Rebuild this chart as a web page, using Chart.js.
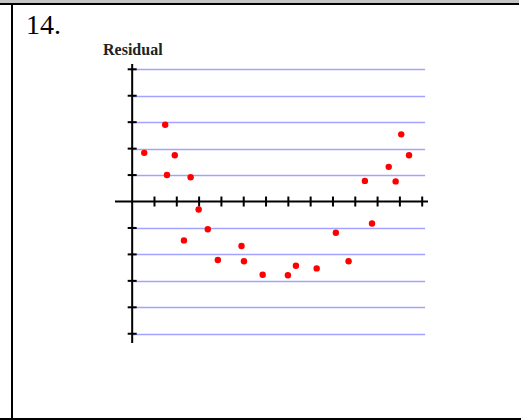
<!DOCTYPE html>
<html>
<head>
<meta charset="utf-8">
<script src="https://cdn.jsdelivr.net/npm/chart.js@4"></script>
<style>
  html, body { margin: 0; padding: 0; background: #fff; }
  #wrap { position: relative; width: 521px; height: 420px; overflow: hidden; }
  #topband { position: absolute; left: 0; top: 0; width: 519px; height: 3px; background: #c4c4c4; }
  #topline { position: absolute; left: 0; top: 3px; width: 519px; height: 2px; background: #000; }
  #leftline { position: absolute; left: 11px; top: 5px; width: 2px; height: 414px; background: #000; }
  #bottomline { position: absolute; left: 0; top: 418px; width: 521px; height: 2px; background: #000; }
  #num { position: absolute; left: 26px; top: 9px; font-family: "Liberation Serif", serif; font-size: 28px; color: #000; }
  #ylabel { position: absolute; left: 103px; top: 41px; font-family: "Liberation Serif", serif; font-weight: bold; font-size: 16px; color: #222; }
  canvas { position: absolute; left: 0; top: 0; }
</style>
</head>
<body>
<div id="wrap">
  <div id="topband"></div>
  <div id="topline"></div>
  <div id="leftline"></div>
  <div id="bottomline"></div>
  <div id="num">14.</div>
  <div id="ylabel">Residual</div>
  <canvas id="residualChart" width="521" height="420"></canvas>
</div>
<script>
// 残差点 (x, residual)
const xValues = [0.54, 1.48, 1.56, 1.91, 2.62, 2.98, 2.32, 3.39, 3.84, 4.90, 5.01, 5.85,
                 6.98, 7.34, 8.27, 9.13, 9.70, 10.75, 10.43, 11.50, 11.81, 12.06, 12.41];
const residuals = [1.84, 2.90, 1.00, 1.75, 0.92, -0.30, -1.47, -1.05, -2.21, -1.68, -2.26, -2.77,
                   -2.79, -2.43, -2.53, -1.18, -2.26, -0.83, 0.78, 1.31, 0.76, 2.54, 1.75];

// 刻度
const xTicks = [1, 2, 3, 4, 5, 6, 7, 8, 9, 10, 11, 12, 13];
const yTicks = [-5, -4, -3, -2, -1, 1, 2, 3, 4, 5];

// 手绘坐标轴、刻度和网格线
const axesPlugin = {
    id: 'residualAxes',
    beforeDatasetsDraw(chart) {
        const { ctx, chartArea, scales: { x, y } } = chart;
        const x0 = x.getPixelForValue(0);
        const y0 = y.getPixelForValue(0);
        ctx.save();

        // 蓝色网格线
        ctx.strokeStyle = '#a3a3ff';
        ctx.lineWidth = 1.5;
        yTicks.forEach(v => {
            const py = Math.round(y.getPixelForValue(v)) + 0.5;
            ctx.beginPath();
            ctx.moveTo(x0, py);
            ctx.lineTo(x.getPixelForValue(13.13), py);
            ctx.stroke();
        });

        ctx.strokeStyle = '#000';
        ctx.lineWidth = 2;
        // x 轴
        ctx.beginPath();
        ctx.moveTo(chartArea.left, y0);
        ctx.lineTo(chartArea.right, y0);
        ctx.stroke();
        // y 轴
        ctx.beginPath();
        ctx.moveTo(x0, chartArea.top);
        ctx.lineTo(x0, chartArea.bottom);
        ctx.stroke();

        // x 刻度
        xTicks.forEach(v => {
            const px = x.getPixelForValue(v);
            ctx.beginPath();
            ctx.moveTo(px, y0 - 5);
            ctx.lineTo(px, y0 + 5);
            ctx.stroke();
        });
        // y 刻度
        yTicks.forEach(v => {
            const py = y.getPixelForValue(v);
            ctx.beginPath();
            ctx.moveTo(x0 - 4.5, py);
            ctx.lineTo(x0 + 4.5, py);
            ctx.stroke();
        });
        ctx.restore();
    }
};

new Chart(document.getElementById('residualChart'), {
    type: 'scatter',
    data: {
        datasets: [{
            label: 'Residual',
            data: xValues.map((v, i) => ({ x: v, y: residuals[i] })),
            backgroundColor: '#ff0000',
            borderWidth: 0,
            pointRadius: 3.2,
            pointHoverRadius: 3.2
        }]
    },
    options: {
        responsive: false,
        animation: false,
        layout: { padding: { left: 115, right: 93, top: 64, bottom: 77 } },
        plugins: { legend: { display: false }, tooltip: { enabled: false } },
        scales: {
            x: { type: 'linear', min: -0.77, max: 13.26, display: false },
            y: { type: 'linear', min: -5.35, max: 5.2, display: false }
        }
    },
    plugins: [axesPlugin]
});
</script>
</body>
</html>
